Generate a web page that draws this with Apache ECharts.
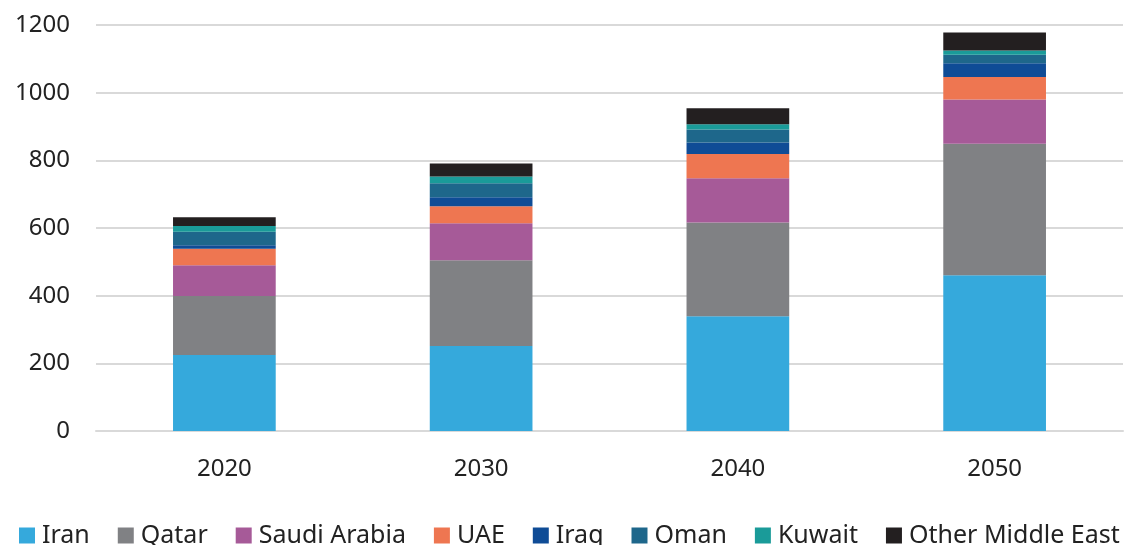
<!DOCTYPE html>
<html>
<head>
<meta charset="utf-8">
<script src="https://cdn.jsdelivr.net/npm/echarts@6/dist/echarts.min.js"></script>
<style>
  html, body { margin: 0; padding: 0; background: #fff; }
  #chart { width: 1134px; height: 545px; }
</style>
</head>
<body>
<div id="chart"></div>
<script>
const years = ['2020', '2030', '2040', '2050'];

const iran = [225, 251, 339, 460];
const qatar = [174, 254, 277, 389];
const saudiArabia = [91, 109, 131, 131];
const uae = [49, 50, 72, 66];
const iraq = [10, 27, 34, 41];
const oman = [40, 41, 38, 25];
const kuwait = [17, 20, 16, 13];
const otherMiddleEast = [26, 39, 47, 53];

const seriesList = [
  { name: 'Iran', data: iran, color: '#35a9dc' },
  { name: 'Qatar', data: qatar, color: '#808184' },
  { name: 'Saudi Arabia', data: saudiArabia, color: '#a65a98' },
  { name: 'UAE', data: uae, color: '#ee7651' },
  { name: 'Iraq', data: iraq, color: '#0f4c96' },
  { name: 'Oman', data: oman, color: '#1e678b' },
  { name: 'Kuwait', data: kuwait, color: '#1a9b99' },
  { name: 'Other Middle East', data: otherMiddleEast, color: '#231f20' }
];

const chart = echarts.init(document.getElementById('chart'));
chart.setOption({
  animation: false,
  textStyle: { fontFamily: 'Noto Sans' },
  grid: { left: 96, right: 11, top: 25, bottom: 114 },
  legend: {
    bottom: -8,
    left: 14,
    width: 1400,
    itemWidth: 16,
    itemHeight: 16,
    itemGap: 28,
    icon: 'rect',
    textStyle: { fontSize: 25, color: '#222', padding: [0, 0, 0, 2] },
    data: seriesList.map(s => s.name)
  },
  xAxis: {
    type: 'category',
    data: years,
    axisLine: { lineStyle: { color: '#d9d9d9', width: 2 } },
    axisTick: { show: false },
    axisLabel: { fontSize: 24, color: '#222', margin: 26 }
  },
  yAxis: {
    type: 'value',
    min: 0,
    max: 1200,
    interval: 200,
    axisLine: { show: false },
    axisTick: { show: false },
    splitLine: { lineStyle: { color: '#d9d9d9', width: 2 } },
    axisLabel: { fontSize: 24, color: '#222', margin: 26, formatter: v => String(v) }
  },
  series: seriesList.map(s => ({
    name: s.name,
    type: 'bar',
    stack: 'total',
    barWidth: '40%',
    data: s.data,
    itemStyle: { color: s.color }
  }))
});
</script>
</body>
</html>
